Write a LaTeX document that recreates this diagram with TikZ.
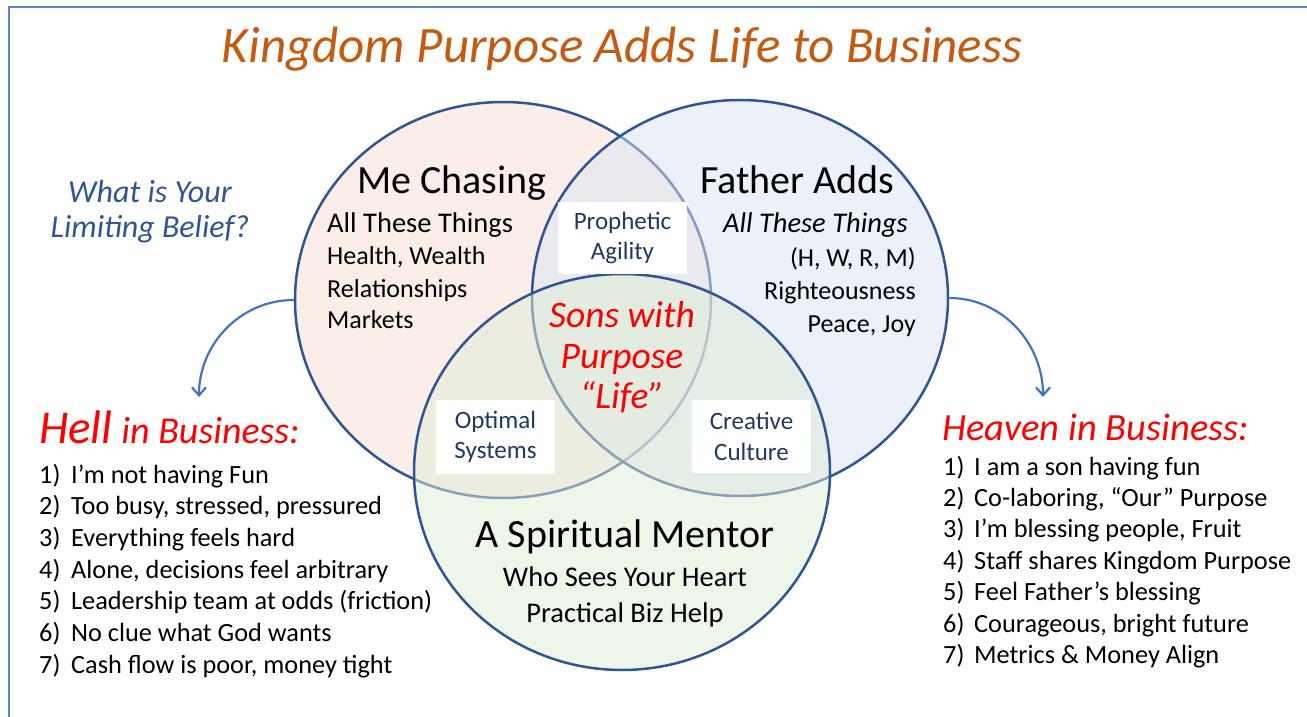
\documentclass[tikz,border=0pt]{standalone}
\usepackage{fontspec}
\setmainfont{Carlito}
\newfontfamily\handfont{Carlito}
\usetikzlibrary{arrows.meta,shapes.geometric}
\definecolor{titleorange}{HTML}{C55A11}
\definecolor{circleblue}{HTML}{2F5597}
\definecolor{arrowblue}{HTML}{4472C4}
\definecolor{frameblue}{HTML}{5B86C8}
\definecolor{fillA}{RGB}{251,238,232}
\definecolor{fillB}{RGB}{219,229,245}
\definecolor{fillC}{RGB}{223,237,213}
\definecolor{boxtext}{HTML}{203864}
\definecolor{handred}{HTML}{FF0000}
\definecolor{handblue}{HTML}{2F5597}
\begin{document}
\begin{tikzpicture}[x=1pt,y=-1pt,
  venn/.style={ellipse, draw=circleblue, line width=2.5pt, minimum width=416pt, minimum height=396pt, inner sep=0pt},
  whitebox/.style={fill=white, text=boxtext, align=center, inner sep=0pt, font=\fontsize{25}{30.5}\selectfont},
  heading/.style={anchor=base, inner sep=0pt, font=\fontsize{40}{48}\selectfont},
  subitem/.style={inner sep=0pt, font=\fontsize{26}{32}\selectfont},
  listitem/.style={anchor=base west, inner sep=0pt, font=\fontsize{26.3}{30}\selectfont},
  hand/.style={inner sep=0pt, font=\handfont\itshape},
  flowarrow/.style={draw=arrowblue, line width=2.2pt, -{Straight Barb[length=8pt,width=14pt]}}
]
\useasboundingbox (0,0) rectangle (1307,717);
\fill[white] (0,0) rectangle (1307,717);
% frame
\draw[frameblue, line width=1.8pt] (1307,7) -- (9,7) -- (9,717);

% title
\node[hand, anchor=base, text=titleorange, font=\handfont\itshape\fontsize{51}{56}\selectfont] (title) at (622,63) {Kingdom Purpose Adds Life to Business};

% circles
\node[venn, fill=fillA] (A) at (503,300) {};
\node[venn, fill=fillB, fill opacity=0.5] (B) at (740,298) {};
\node[venn, fill=fillC, fill opacity=0.5] (C) at (622,472) {};

% white boxes
\node[whitebox, minimum width=129pt, minimum height=72pt] (prophetic) at (622.5,238) {Prophetic\\Agility};
\node[whitebox, minimum width=119pt, minimum height=74pt] (optimal) at (495.5,437) {Optimal\\Systems};
\node[whitebox, minimum width=119pt, minimum height=73pt] (creative) at (751.5,436.5) {Creative\\Culture};

% Me Chasing
\node[heading] (me) at (452,193) {Me Chasing};
\node[subitem, anchor=base west, font=\fontsize{28.5}{32}\selectfont] (mea) at (327,232) {All These Things};
\node[subitem, anchor=base west] (meb) at (327,264) {Health, Wealth};
\node[subitem, anchor=base west] (mec) at (327,297) {Relationships};
\node[subitem, anchor=base west] (med) at (327,328) {Markets};

% Father Adds
\node[heading] (father) at (797.5,193) {Father Adds};
\node[subitem, anchor=base east, font=\itshape\fontsize{28.5}{32}\selectfont] (fa) at (908,232) {All These Things};
\node[subitem, anchor=base east] (fb) at (916,266) {(H, W, R, M)};
\node[subitem, anchor=base east] (fc) at (916,299) {Righteousness};
\node[subitem, anchor=base east] (fd) at (916,332) {Peace, Joy};

% Center
\node[hand, anchor=base, text=handred, font=\handfont\itshape\fontsize{37.5}{40}\selectfont] (sons) at (622,327) {Sons with};
\node[hand, anchor=base, text=handred, font=\handfont\itshape\fontsize{37.5}{40}\selectfont] (purpose) at (622,368) {Purpose};
\node[hand, anchor=base, text=handred, font=\handfont\itshape\fontsize{37.5}{40}\selectfont] (life) at (622,408) {“Life”};

% Spiritual mentor
\node[heading] (mentor) at (625,547) {A Spiritual Mentor};
\node[subitem, anchor=base, font=\fontsize{28.5}{32}\selectfont] (heart) at (625,586) {Who Sees Your Heart};
\node[subitem, anchor=base, font=\fontsize{28.5}{32}\selectfont] (bizhelp) at (625,622) {Practical Biz Help};

% limiting belief
\node[hand, anchor=base, text=handblue, font=\handfont\itshape\fontsize{32}{36}\selectfont] (what) at (150,202) {What is Your};
\node[hand, anchor=base, text=handblue, font=\handfont\itshape\fontsize{32}{36}\selectfont] (limiting) at (150,237) {Limiting Belief?};

% Hell
\node[hand, anchor=base west, text=handred] (hell) at (39,443) {{\fontsize{47}{52}\selectfont Hell}\hspace{9pt}{\fontsize{38}{42}\selectfont in Business:}};
\foreach \t [count=\i] in {I’m not having Fun, {Too busy, stressed, pressured}, Everything feels hard, {Alone, decisions feel arbitrary}, Leadership team at odds (friction), No clue what God wants, {Cash flow is poor, money tight}} {
  \node[listitem] (hellnum\i) at (39,{483+31.7*(\i-1)}) {\i)};
  \node[listitem] (helltxt\i) at (71,{483+31.7*(\i-1)}) {\t};
}

% Heaven
\node[hand, anchor=base west, text=handred, font=\handfont\itshape\fontsize{38.5}{44}\selectfont] (heaven) at (942,440) {Heaven in Business:};
\foreach \t [count=\i] in {I am a son having fun, {Co-laboring, “Our” Purpose}, {I’m blessing people, Fruit}, Staff shares Kingdom Purpose, Feel Father’s blessing, {Courageous, bright future}, Metrics \& Money Align} {
  \node[listitem] (heavnum\i) at (943,{475+31.4*(\i-1)}) {\i)};
  \node[listitem] (heavtxt\i) at (974,{475+31.4*(\i-1)}) {\t};
}

% arrows
\coordinate (hellend) at (199,397);
\coordinate (heavenend) at (1043,397);
\draw[flowarrow] (A.west) to[out=180,in=90] (hellend);
\draw[flowarrow] (B.east) to[out=0,in=90] (heavenend);
\end{tikzpicture}
\end{document}
